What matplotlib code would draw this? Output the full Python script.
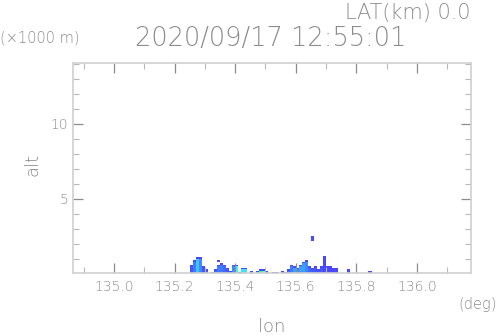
import numpy as np
import matplotlib.pyplot as plt
from matplotlib.colors import LinearSegmentedColormap

plt.rcParams['font.family'] = ['DejaVu Sans']
plt.rcParams['font.weight'] = 'ultralight'

# lon cells (0.01 deg) starting at 135.25, echo top (km) and core value per column
lon0 = 135.25
dlon = 0.01
tops = [0.6, 0.9, 1.1, 1.1, 0.5, 0.3, 0.0, 0.15, 0.35, 0.55,
        0.7, 0.55, 0.4, 0.2, 0.65, 0.6, 0.1, 0.45, 0.45, 0.0,
        0.2, 0.0, 0.25, 0.35, 0.35, 0.25, 0.0, 0.15, 0.15, 0.0,
        0.2, 0.1, 0.3, 0.6, 0.5, 0.45, 0.55, 0.85, 0.9, 0.5,
        0.4, 0.5, 0.35, 0.5, 1.2, 0.5, 0.5, 0.45, 0.4, 0.0,
        0.0, 0.0, 0.3, 0.0, 0.0, 0.0, 0.0, 0.0, 0.0, 0.2]
core = [0.05, 0.15, 0.35, 0.2, 0.05, 0.05, 0.0, 0.05, 0.1, 0.15,
        0.15, 0.1, 0.05, 0.1, 0.2, 0.55, 0.6, 0.45, 0.45, 0.0,
        0.05, 0.0, 0.3, 0.75, 0.65, 0.2, 0.0, 0.45, 0.6, 0.0,
        0.05, 0.05, 0.1, 0.15, 0.25, 0.2, 0.25, 0.25, 0.2, 0.1,
        0.05, 0.05, 0.05, 0.05, 0.0, 0.0, 0.0, 0.0, 0.0, 0.0,
        0.0, 0.0, 0.0, 0.0, 0.0, 0.0, 0.0, 0.0, 0.0, 0.0]
# isolated echoes aloft: (lon, alt bottom, alt top)
aloft_lon = [135.653, 135.347]
aloft_bot = [2.2, 0.8]
aloft_top = [2.5, 0.9]

dz = 0.1
nz = 30
lon_edges = lon0 + dlon * np.arange(len(tops) + 1)
alt_edges = dz * np.arange(nz + 1)
Z = np.full((nz, len(tops)), np.nan)
for i, (t, v) in enumerate(zip(tops, core)):
    n = int(round(t / dz))
    if n > 0:
        Z[:n, i] = v
        Z[n - 1, i] = 0.0
for lo, b, t in zip(aloft_lon, aloft_bot, aloft_top):
    i = int((lo - lon0) / dlon)
    Z[int(round(b / dz)):int(round(t / dz)), i] = 0.0

cmap = LinearSegmentedColormap.from_list(
    "radar", ["#4848ff", "#3c8cff", "#40d8ff", "#40ffe8", "#50f050", "#d8ff40"])

fig = plt.figure(figsize=(4.98, 3.36), dpi=100)
ax = fig.add_axes([0.1466, 0.1875, 0.799, 0.625])
ax.pcolormesh(lon_edges, alt_edges, Z, cmap=cmap, vmin=0, vmax=1)

ax.set_xlim(134.865, 136.178)
ax.set_ylim(0.05, 14.05)
ax.set_xticks([135.0, 135.2, 135.4, 135.6, 135.8, 136.0])
ax.set_xticklabels(["135.0", "135.2", "135.4", "135.6", "135.8", "136.0"])
ax.set_xticks(np.arange(134.9, 136.2, 0.1), minor=True)
ax.set_yticks([5, 10])
ax.set_yticklabels(["5", "10"])
ax.set_yticks(np.arange(1, 14.5, 1), minor=True)

grey = "#8c8c8c"
for s in ax.spines.values():
    s.set_color("#d0d0d0")
    s.set_linewidth(1.2)
ax.tick_params(which="both", direction="in", top=True, right=True,
               colors=grey, labelsize=10, labelcolor=grey)
ax.tick_params(which="major", length=7, width=0.9)
ax.tick_params(which="minor", length=4, width=0.8, colors="#b8b8b8")
ax.tick_params(axis="x", pad=5)

fig.text(0.544, 0.885, "2020/09/17 12:55:01", ha="center", va="center",
         fontsize=18.5, color=grey)
fig.text(0.945, 0.962, "LAT(km) 0.0", ha="right", va="center",
         fontsize=15, color=grey)
fig.text(0.0, 0.887, "(\u00d71000 m)", ha="left", va="center",
         fontsize=10.5, color=grey)
fig.text(0.998, 0.095, "(deg)", ha="right", va="center",
         fontsize=10.5, color=grey)
fig.text(0.546, 0.028, "lon", ha="center", va="center",
         fontsize=13, color=grey)
fig.text(0.066, 0.51, "alt", ha="center", va="center", rotation=90,
         fontsize=13, color=grey)

plt.savefig("out.png")
